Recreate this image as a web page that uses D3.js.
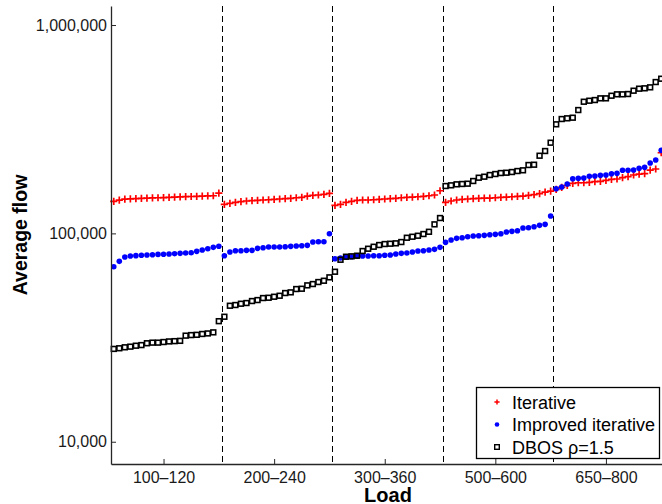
<!DOCTYPE html>
<html>
<head>
<meta charset="utf-8">
<script src="https://cdn.jsdelivr.net/npm/d3@7"></script>
<style>
  html, body { margin: 0; padding: 0; background: #fff; }
  svg { display: block; font-family: "Liberation Sans", Arial, sans-serif; }
</style>
</head>
<body>
<svg id="chart" width="662" height="504"></svg>
<script>
// Load groups and where they sit on the instance axis (20 instances per group)
const groupLabels = ["100\u2013120", "200\u2013240", "300\u2013360", "500\u2013600", "650\u2013800"];
const groupTicks = [10, 30, 50, 70, 90];
const groupSeparators = [20.5, 40.5, 60.5, 80.5];
const yTickValues = [10000, 100000, 1000000];

// Average flow per instance, sorted within each load group
const iterative = [
  142500, 144500, 146000, 146500, 147000, 147300, 147600, 148000, 148300, 148600, 149000, 149300, 149600, 150000, 150300, 150600, 151000, 151300, 151600, 156000,
  137900, 139400, 140900, 141900, 143000, 143500, 144100, 144600, 145000, 145700, 146200, 146700, 147300, 148300, 148900, 151100, 152200, 152800, 153900, 155600,
  136400, 137900, 140900, 142500, 144100, 144600, 144600, 145000, 145700, 146200, 146700, 147300, 148300, 148900, 149400, 149900, 150600, 151600, 152800, 160200,
  140900, 143000, 144600, 145700, 146200, 146700, 147300, 147800, 147800, 148300, 148900, 149400, 149900, 150600, 151100, 152200, 153400, 155100, 157600, 159700,
  162700, 166300, 170100, 173900, 175000, 175000, 175800, 177000, 177800, 179700, 181700, 182400, 185000, 187100, 190600, 192700, 193400, 201400, 203700, 243800
];
const improvedIterative = [
  69200, 73400, 77000, 77900, 78200, 78500, 78700, 79000, 79300, 79400, 79600, 79900, 80200, 80500, 80800, 82000, 83200, 84400, 85700, 86700,
  78100, 81400, 82550, 82550, 82900, 82900, 84760, 85330, 86000, 86000, 86000, 86280, 86660, 86950, 87240, 87620, 90880, 91180, 91180, 99600,
  75550, 76130, 77000, 77270, 77610, 77860, 77860, 78140, 78140, 78480, 78700, 79600, 80200, 80500, 81400, 82300, 82550, 83200, 83830, 85700,
  90570, 92900, 94670, 95300, 96360, 97110, 97430, 97860, 98510, 98950, 99610, 101500, 102300, 103000, 106100, 106400, 107600, 109300, 110500, 121100,
  163800, 166900, 172600, 182900, 183700, 184300, 187800, 188400, 189900, 190600, 193400, 194200, 200800, 200800, 201400, 205200, 207500, 217600, 224900, 250400
];
const dbos = [
  27900, 28100, 28400, 28600, 28900, 29100, 29700, 29900, 29900, 30100, 30300, 30400, 30500, 32300, 32500, 32600, 32900, 33100, 33500, 37900,
  39800, 44950, 45310, 45960, 46320, 47350, 47860, 48940, 49100, 49650, 50200, 51720, 52120, 54060, 54240, 56310, 57130, 58410, 59250, 61520,
  65450, 74730, 77270, 77610, 78140, 82300, 84400, 86280, 87930, 88900, 89200, 89600, 90880, 95300, 96360, 97430, 99290, 101800, 110500, 118500,
  168800, 170100, 172000, 172600, 173200, 178400, 185000, 187100, 190600, 192700, 194800, 195500, 197000, 199200, 200800, 212900, 213600, 235900, 248500, 272400,
  333800, 353900, 356700, 359100, 390800, 428400, 433200, 436500, 444800, 444800, 457800, 465000, 465000, 466500, 483900, 494800, 497000, 502300, 532500, 552400
];

const svg = d3.select("#chart");
const plot = { left: 111, right: 664, top: 6, bottom: 464 };
const axisColor = "#262626";

const x = d3.scaleLinear().domain([0.5, 100.5]).range([plot.left, plot.right]);
const y = d3.scaleLog().domain([7820, 1234000]).range([plot.bottom, plot.top]);

// Dashed separators between load groups
svg.append("g").selectAll("line").data(groupSeparators).join("line")
  .attr("x1", d => Math.round(x(d)) + 0.5).attr("x2", d => Math.round(x(d)) + 0.5)
  .attr("y1", plot.top).attr("y2", plot.bottom)
  .attr("stroke", "#000").attr("stroke-width", 1).attr("stroke-dasharray", "6,4");

// Markers
const pts = arr => arr.map((v, i) => ({ i: i + 1, v }));
const plusPath = s => `M${-s},0H${s}M0,${-s}V${s}`;

svg.append("g").selectAll("path").data(pts(iterative)).join("path")
  .attr("d", plusPath(3.6))
  .attr("transform", d => `translate(${x(d.i)},${y(d.v)})`)
  .attr("stroke", "#ff0000").attr("stroke-width", 1.7).attr("fill", "none");

svg.append("g").selectAll("circle").data(pts(improvedIterative)).join("circle")
  .attr("cx", d => x(d.i)).attr("cy", d => y(d.v)).attr("r", 2.8)
  .attr("fill", "#0000ff");

svg.append("g").selectAll("rect").data(pts(dbos)).join("rect")
  .attr("x", d => x(d.i) - 2.4).attr("y", d => y(d.v) - 2.4)
  .attr("width", 4.8).attr("height", 4.8)
  .attr("fill", "none").attr("stroke", "#000").attr("stroke-width", 1.6);

// Axes
const yAxis = d3.axisLeft(y).tickValues(yTickValues).tickFormat(d3.format(",")).tickSizeInner(-5).tickSizeOuter(0).tickPadding(4);
const gy = svg.append("g").attr("transform", `translate(${plot.left},0)`).call(yAxis);
gy.select(".domain").attr("stroke", axisColor).attr("stroke-width", 1.3);
gy.selectAll(".tick line").attr("stroke", axisColor);
gy.selectAll(".tick text").attr("font-size", 16).attr("fill", "#1a1a1a").attr("x", -4)
  .attr("font-family", "'Liberation Sans', Arial, sans-serif");

const xAxis = d3.axisBottom(x).tickValues(groupTicks).tickFormat((d, i) => groupLabels[i]).tickSizeInner(-5).tickSizeOuter(0).tickPadding(8);
const gx = svg.append("g").attr("transform", `translate(0,${plot.bottom})`).call(xAxis);
gx.select(".domain").attr("stroke", axisColor).attr("stroke-width", 1.3);
gx.selectAll(".tick line").attr("stroke", axisColor);
gx.selectAll(".tick text").attr("font-size", 16).attr("fill", "#1a1a1a").attr("y", 8)
  .attr("font-family", "'Liberation Sans', Arial, sans-serif");

// Axis titles
svg.append("text").attr("x", 388).attr("y", 502).attr("text-anchor", "middle")
  .attr("font-size", 20).attr("font-weight", "bold").attr("fill", "#000").text("Load");
svg.append("text").attr("transform", "translate(27,235) rotate(-90)").attr("text-anchor", "middle")
  .attr("font-size", 19.5).attr("font-weight", "bold").attr("fill", "#000").text("Average flow");

// Legend
const legend = svg.append("g");
legend.append("rect").attr("x", 476.5).attr("y", 387.5).attr("width", 183).attr("height", 71)
  .attr("fill", "#fff").attr("stroke", "#000").attr("stroke-width", 1.3);
const entries = [
  { label: "Iterative", kind: "plus" },
  { label: "Improved iterative", kind: "dot" },
  { label: "DBOS \u03c1=1.5", kind: "square" }
];
entries.forEach((e, k) => {
  const cy = 402 + k * 22.5;
  const cx = 497;
  if (e.kind === "plus") {
    legend.append("path").attr("d", plusPath(2.6)).attr("transform", `translate(${cx},${cy})`)
      .attr("stroke", "#ff0000").attr("stroke-width", 1.5);
  } else if (e.kind === "dot") {
    legend.append("circle").attr("cx", cx).attr("cy", cy).attr("r", 2.3).attr("fill", "#0000ff");
  } else {
    legend.append("rect").attr("x", cx - 2.3).attr("y", cy - 2.3).attr("width", 4.6).attr("height", 4.6)
      .attr("fill", "none").attr("stroke", "#000").attr("stroke-width", 1.4);
  }
  legend.append("text").attr("x", 512).attr("y", cy + 6.5).attr("font-size", 18).attr("fill", "#000").text(e.label);
});
</script>
</body>
</html>
